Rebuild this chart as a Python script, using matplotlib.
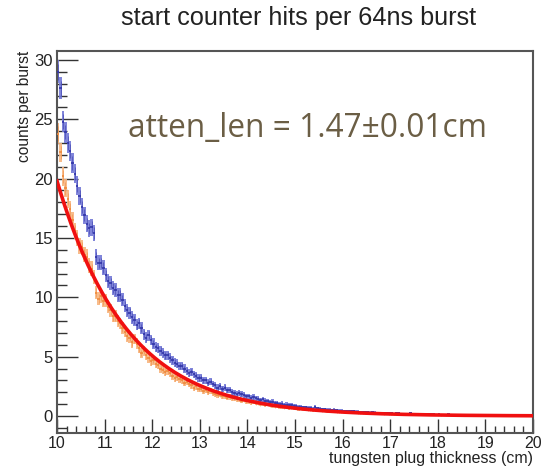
import numpy as np
import matplotlib
matplotlib.use("Agg")
import matplotlib.pyplot as plt

# histogram binning: 200 bins of 0.05 cm from 10 to 20 cm
bin_lo = 10.0
bin_width = 0.05
n_bins = 200

# hits per burst, first run (blue)
hits_blue = [
    29.0, 27.6, 24.8, 23.9, 23.0, 22.3, 21.3, 20.4, 19.4, 18.5,
    17.6, 16.9, 16.2, 15.8, 15.9, 15.4, 13.4, 12.9, 12.9, 12.5,
    11.9, 11.4, 11.2, 10.8, 10.6, 10.2, 10.2, 9.8, 9.3, 8.9,
    8.7, 8.3, 8.1, 7.7, 7.8, 7.4, 6.9, 6.6, 6.8, 6.4,
    6.1, 5.8, 5.7, 5.5, 5.3, 5.1, 5.1, 4.9, 4.7, 4.5,
    4.4, 4.2, 4.2, 4.0, 3.8, 3.6, 3.7, 3.5, 3.4, 3.2,
    3.2, 3.0, 3.0, 2.8, 2.9, 2.7, 2.6, 2.4, 2.5, 2.3,
    2.4, 2.2, 2.2, 2.0, 1.95, 1.85, 1.95, 1.85, 1.75, 1.65,
    1.65, 1.55, 1.6, 1.5, 1.45, 1.35, 1.4, 1.3, 1.25, 1.15,
    1.2, 1.1, 1.1, 1.0, 1.05, 0.95, 0.97, 0.93, 0.92, 0.88,
    0.82, 0.78, 0.77, 0.73, 0.72, 0.68, 0.67, 0.63, 0.75, 0.65,
    0.62, 0.58, 0.57, 0.53, 0.52, 0.48, 0.52, 0.48, 0.46, 0.44,
    0.43, 0.41, 0.41, 0.39, 0.39, 0.37, 0.36, 0.34, 0.34, 0.32,
    0.31, 0.29, 0.31, 0.29, 0.28, 0.26, 0.27, 0.25, 0.25, 0.23,
    0.23, 0.21, 0.26, 0.24, 0.21, 0.19, 0.19, 0.17, 0.23, 0.21,
    0.18, 0.16, 0.16, 0.14, 0.19, 0.17, 0.15, 0.13, 0.14, 0.12,
    0.13, 0.11, 0.12, 0.10, 0.14, 0.12, 0.11, 0.09, 0.10, 0.08,
    0.10, 0.08, 0.09, 0.07, 0.09, 0.07, 0.08, 0.06, 0.09, 0.07,
    0.07, 0.05, 0.07, 0.05, 0.08, 0.06, 0.06, 0.04, 0.06, 0.04,
    0.06, 0.04, 0.05, 0.03, 0.06, 0.04, 0.05, 0.03, 0.05, 0.03,
]

# hits per burst, second run (orange)
hits_orange = [
    23.8, 22.2, 20.2, 19.2, 18.3, 17.4, 16.5, 15.6, 15.0, 14.3,
    14.2, 13.6, 13.4, 12.7, 12.4, 11.7, 10.4, 9.9, 10.1, 9.7,
    9.7, 9.2, 8.9, 8.4, 8.4, 8.0, 7.8, 7.4, 7.1, 6.7,
    6.6, 6.2, 6.5, 6.1, 5.7, 5.3, 5.5, 5.1, 4.9, 4.6,
    4.7, 4.4, 4.3, 4.0, 3.9, 3.7, 3.8, 3.6, 3.4, 3.2,
    3.3, 3.1, 3.0, 2.8, 2.9, 2.7, 2.6, 2.4, 2.5, 2.3,
    2.3, 2.1, 2.2, 2.0, 2.1, 1.9, 1.85, 1.75, 1.8, 1.7,
    1.65, 1.55, 1.6, 1.5, 1.5, 1.4, 1.4, 1.3, 1.35, 1.25,
    1.25, 1.15, 1.2, 1.1, 1.1, 1.0, 1.05, 0.95, 1.0, 0.9,
    0.88, 0.82, 0.85, 0.79, 0.78, 0.72, 0.75, 0.69, 0.71, 0.65,
    0.65, 0.59, 0.63, 0.57, 0.58, 0.52, 0.55, 0.49, 0.52, 0.48,
    0.47, 0.43, 0.45, 0.41, 0.42, 0.38, 0.39, 0.35, 0.37, 0.33,
    0.34, 0.32, 0.31, 0.29, 0.30, 0.28, 0.27, 0.25, 0.26, 0.24,
    0.24, 0.22, 0.23, 0.21, 0.21, 0.19, 0.20, 0.18, 0.19, 0.17,
    0.17, 0.15, 0.16, 0.14, 0.16, 0.14, 0.14, 0.12, 0.14, 0.12,
    0.13, 0.11, 0.12, 0.10, 0.11, 0.09, 0.11, 0.09, 0.10, 0.08,
    0.09, 0.07, 0.09, 0.07, 0.08, 0.06, 0.08, 0.06, 0.07, 0.05,
    0.07, 0.05, 0.07, 0.05, 0.06, 0.05, 0.06, 0.04, 0.06, 0.04,
    0.05, 0.04, 0.05, 0.03, 0.05, 0.03, 0.04, 0.03, 0.04, 0.03,
    0.04, 0.02, 0.04, 0.03, 0.04, 0.02, 0.03, 0.02, 0.03, 0.03,
]

# exponential fit: amplitude at 10 cm and attenuation length
fit_amp = 19.8
atten_len = 1.47
atten_err = 0.01
n_bursts = 32.0  # bursts averaged per bin -> Poisson errors

x_ticks = list(range(10, 21))
y_ticks = [0, 5, 10, 15, 20, 25, 30]

centres = bin_lo + bin_width * (np.arange(n_bins) + 0.5)
edges = bin_lo + bin_width * np.arange(n_bins + 1)
blue = np.array(hits_blue)
orange = np.array(hits_orange)
err_blue = np.sqrt(blue / n_bursts)
err_orange = np.sqrt(orange / n_bursts)

plt.rcParams['font.family'] = ['Liberation Sans', 'DejaVu Sans']
fig = plt.figure(figsize=(5.48, 4.68), dpi=100)
ax = fig.add_axes([57 / 548, 1 - 433 / 468, 476 / 548, 382 / 468])


def draw_hist(ax, vals, errs, band_col, line_col):
    lo = np.append(vals - errs, (vals - errs)[-1])
    hi = np.append(vals + errs, (vals + errs)[-1])
    ax.fill_between(edges, lo, hi, step='post', color=band_col,
                    alpha=0.9, linewidth=0, zorder=2)
    ax.hlines(vals, centres - bin_width / 2, centres + bin_width / 2,
              colors=line_col, linewidth=1.2, zorder=3)
    ax.vlines(centres, vals - errs * 0.7, vals + errs * 0.7,
              colors=line_col, linewidth=0.45, alpha=0.8, zorder=3)


draw_hist(ax, orange, err_orange, '#f8b57e', '#ef8a3c')
draw_hist(ax, blue, err_blue, '#7379d6', '#3034a8')

xf = np.linspace(10, 20, 400)
ax.plot(xf, fit_amp * np.exp(-(xf - bin_lo) / atten_len),
        color='#f01010', linewidth=2.6, zorder=4)

ax.set_xlim(10, 20)
ax.set_ylim(-1.43, 30.75)
ax.set_xticks(x_ticks)
ax.set_yticks(y_ticks)
ax.set_xticks(np.arange(10, 20.01, 0.2), minor=True)
ax.set_yticks(np.arange(-1, 31, 1), minor=True)
ax.tick_params(axis='x', which='major', direction='in', length=10,
               width=1.0, labelsize=11.5, pad=2, color='#333333',
               labelcolor='#222222')
ax.tick_params(axis='x', which='minor', direction='in', length=5,
               width=1.0, color='#333333')
ax.tick_params(axis='y', which='major', direction='in', length=15,
               width=1.0, labelsize=12, pad=3, color='#333333',
               labelcolor='#222222')
ax.tick_params(axis='y', which='minor', direction='in', length=7,
               width=1.0, color='#333333')
for s in ax.spines.values():
    s.set_linewidth(1.5)
    s.set_color('#555555')

fig.text(533 / 548, 1 - 458 / 468, 'tungsten plug thickness (cm)',
         ha='right', va='center', fontsize=11.5, color='#222222')
fig.text(25 / 548, 1 - 51 / 468, 'counts per burst', rotation=90,
         ha='center', va='top', fontsize=11.2, color='#222222')
fig.text(298.5 / 548, 1 - 18 / 468, 'start counter hits per 64ns burst',
         ha='center', va='center', fontsize=18.2, color='#222222')
fig.text(307 / 548, 1 - 128 / 468,
         f'atten_len = {atten_len:.2f}±{atten_err:.2f}cm',
         ha='center', va='center', fontsize=22.8,
         color='#6b5e45', family=['Open Sans', 'DejaVu Sans'])

fig.savefig('out.png', dpi=100)
